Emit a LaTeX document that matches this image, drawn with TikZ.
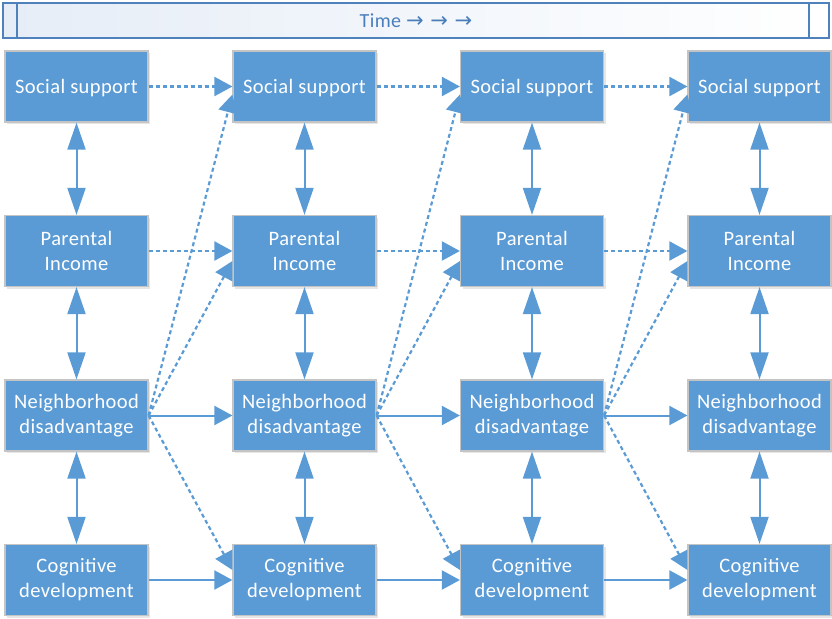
\documentclass[tikz,border=0pt]{standalone}
\usepackage{fontspec}
\setmainfont{Carlito}[LetterSpace=2]
\newfontfamily\arrowfont{DejaVu Sans}
\usetikzlibrary{arrows.meta,shadows}
\definecolor{boxfill}{HTML}{5B9BD5}
\definecolor{boxline}{HTML}{C4C4C4}
\definecolor{barline}{HTML}{4F81BD}
\definecolor{bartext}{HTML}{4A7EBB}
\definecolor{barfill}{HTML}{E6EDF7}
\tikzset{
  box/.style={rectangle, draw=boxline, fill=boxfill, line width=1.2pt,
    minimum width=143pt, minimum height=71pt, text=white, align=center,
    font=\fontsize{20.5}{25}\selectfont,
    drop shadow={opacity=0.2, shadow xshift=2pt, shadow yshift=-2pt}},
  timebar/.style={rectangle, draw=barline, line width=1.6pt,
    left color=barfill, right color=white,
    minimum width=826pt, minimum height=35pt, text=bartext,
    font=\fontsize{20}{22}\selectfont},
  link/.style={line width=2pt, draw=boxfill, -{Triangle[length=18pt,width=19pt]}},
  twoway/.style={line width=2pt, draw=boxfill,
    {Triangle[length=27pt,width=18pt]}-{Triangle[length=27pt,width=18pt]}},
  lagged/.style={link, line width=2.2pt, dash pattern=on 4pt off 3pt},
}
\begin{document}
\begin{tikzpicture}[x=1pt,y=1pt]
  \useasboundingbox (0,0) rectangle (832,-618);
  % time bar along the top
  \node[timebar] (time) at (416,-20.5) {Time {\arrowfont\fontsize{21}{22}\selectfont→ → →}};
  \draw[barline,line width=1.6pt] ([xshift=15pt]time.north west) -- ([xshift=15pt]time.south west);
  \draw[barline,line width=1.6pt] ([xshift=-21pt]time.north east) -- ([xshift=-21pt]time.south east);
  % one column of boxes per wave
  \foreach \i/\x in {1/76.5,2/304.5,3/532,4/759.5} {
    \node[box,text depth=0pt] (soc\i) at (\x,-86.5) {Social support};
    \node[box] (par\i) at (\x,-251) {Parental\\Income};
    \node[box] (nei\i) at (\x,-415.5) {Neighborhood\\disadvantage};
    \node[box] (cog\i) at (\x,-580) {Cognitive\\development};
  }
  % within-wave links
  \foreach \i in {1,...,4} {
    \draw[twoway] (soc\i) -- (par\i);
    \draw[twoway] (par\i) -- (nei\i);
    \draw[twoway] (nei\i) -- (cog\i);
  }
  % across waves: solid for neighborhood and cognition, dotted otherwise
  \foreach \i/\j in {1/2,2/3,3/4} {
    \draw[link] (nei\i) -- (nei\j);
    \draw[link] (cog\i) -- (cog\j);
    \draw[lagged] (soc\i) -- (soc\j);
    \draw[lagged] (par\i) -- (par\j);
    \draw[lagged] (nei\i.east) -- ([yshift=-8pt]soc\j.west);
    \draw[lagged] (nei\i.east) -- ([yshift=-10pt]par\j.west);
    \draw[lagged] (nei\i.east) -- ([yshift=10pt]cog\j.west);
  }
\end{tikzpicture}
\end{document}
